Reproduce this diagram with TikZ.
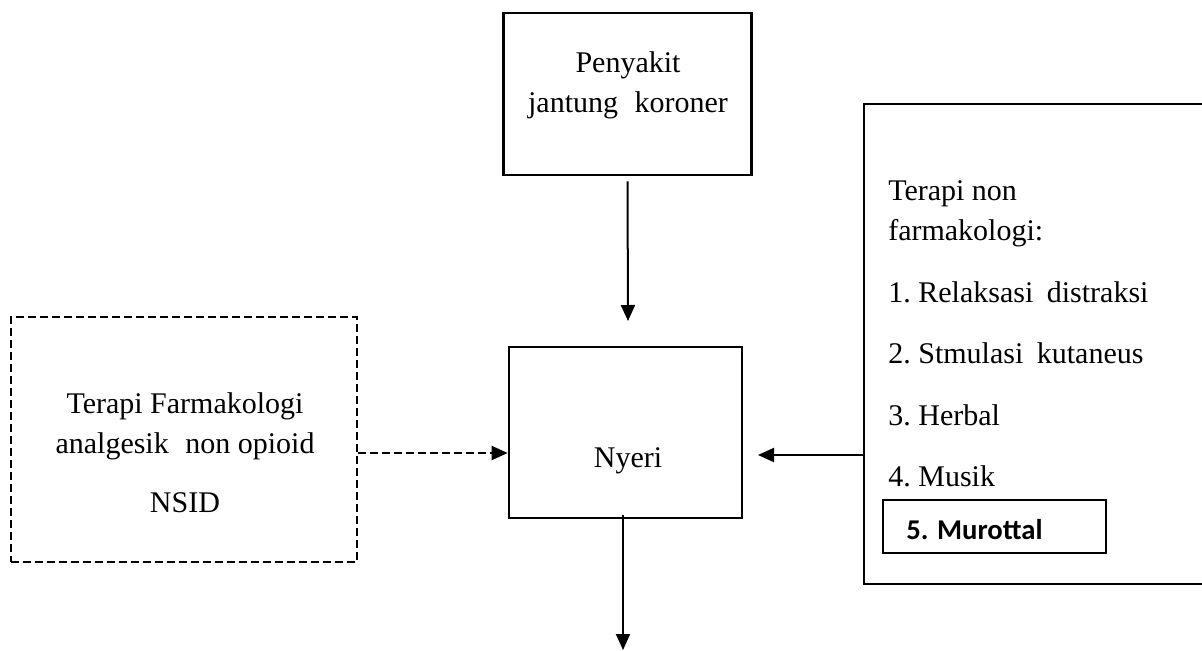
\documentclass[tikz,border=0pt]{standalone}
\usepackage{fontspec}
\setmainfont{Liberation Serif}
\newfontfamily\calfont{Carlito}
\usetikzlibrary{arrows.meta}
\begin{document}
\begin{tikzpicture}[x=0.75pt,y=-0.75pt,
  box/.style={draw, line width=2pt, minimum width=#1},
  dbox/.style={draw, line width=1.5pt, dash pattern=on 6pt off 3pt},
  txt/.style={inner sep=0pt, font=\fontsize{22.5}{30}\selectfont},
  arr/.style={line width=1.5pt, -{Triangle[length=12pt,width=10.5pt]}},
  darr/.style={arr, dash pattern=on 6pt off 3pt}
]
\useasboundingbox (0,0) rectangle (1202,650);
% boxes
\node[box=248*0.75pt, minimum height=162*0.75pt] (top) at (627.5,94) {};
\node[box=233*0.75pt, minimum height=171*0.75pt] (nyeri) at (625.5,432.5) {};
\node[dbox, minimum width=346*0.75pt, minimum height=245*0.75pt] (lbox) at (184,439.5) {};
\node[box=351*0.75pt, minimum height=480*0.75pt] (rbox) at (1039.5,344) {};
\node[box=223*0.75pt, minimum height=53*0.75pt] (mbox) at (994.5,526.5) {};
% texts
\node[txt, anchor=base] (t1) at (628,72) {Penyakit};
\node[txt, anchor=base] (t2) at (628,112) {jantung\hspace{0.3em} koroner};
\node[txt, anchor=base] (n1) at (628,467) {Nyeri};
\node[txt, anchor=base] (l1) at (185,413) {Terapi Farmakologi};
\node[txt, anchor=base] (l2) at (185,453) {analgesik\hspace{0.3em} non opioid};
\node[txt, anchor=base] (l3) at (185,512) {NSID};
\node[txt, anchor=base west] (r1) at (888,200) {Terapi non};
\node[txt, anchor=base west] (r2) at (888,240) {farmakologi:};
\node[txt, anchor=base west] (r3) at (888,302) {1.\hspace{-0.08em} Relaksasi\hspace{0.2em} distraksi};
\node[txt, anchor=base west] (r4) at (888,363) {2.\hspace{-0.08em} Stmulasi\hspace{0.2em} kutaneus};
\node[txt, anchor=base west] (r5) at (888,425) {3.\hspace{-0.08em} Herbal};
\node[txt, anchor=base west] (r6) at (888,486) {4.\hspace{-0.08em} Musik};
\node[inner sep=0pt, anchor=base west, font=\calfont\bfseries\fontsize{21.5}{26}\selectfont] (r7) at (906,539) {5. Murottal};
% connectors
\coordinate (tipA) at (628,321);
\coordinate (tipB) at (623,650);
\coordinate (tipC) at (758,455);
\coordinate (dy) at (0,453);
\draw[arr] ([yshift=-5*0.75pt]top.south) -- (tipA);
\draw[arr] ([xshift=-2.5*0.75pt,yshift=4*0.75pt]nyeri.south) -- (tipB);
\draw[arr] (rbox.west |- tipC) -- (tipC);
\draw[darr] (lbox.east |- dy) -- (nyeri.west |- dy);
\end{tikzpicture}
\end{document}
